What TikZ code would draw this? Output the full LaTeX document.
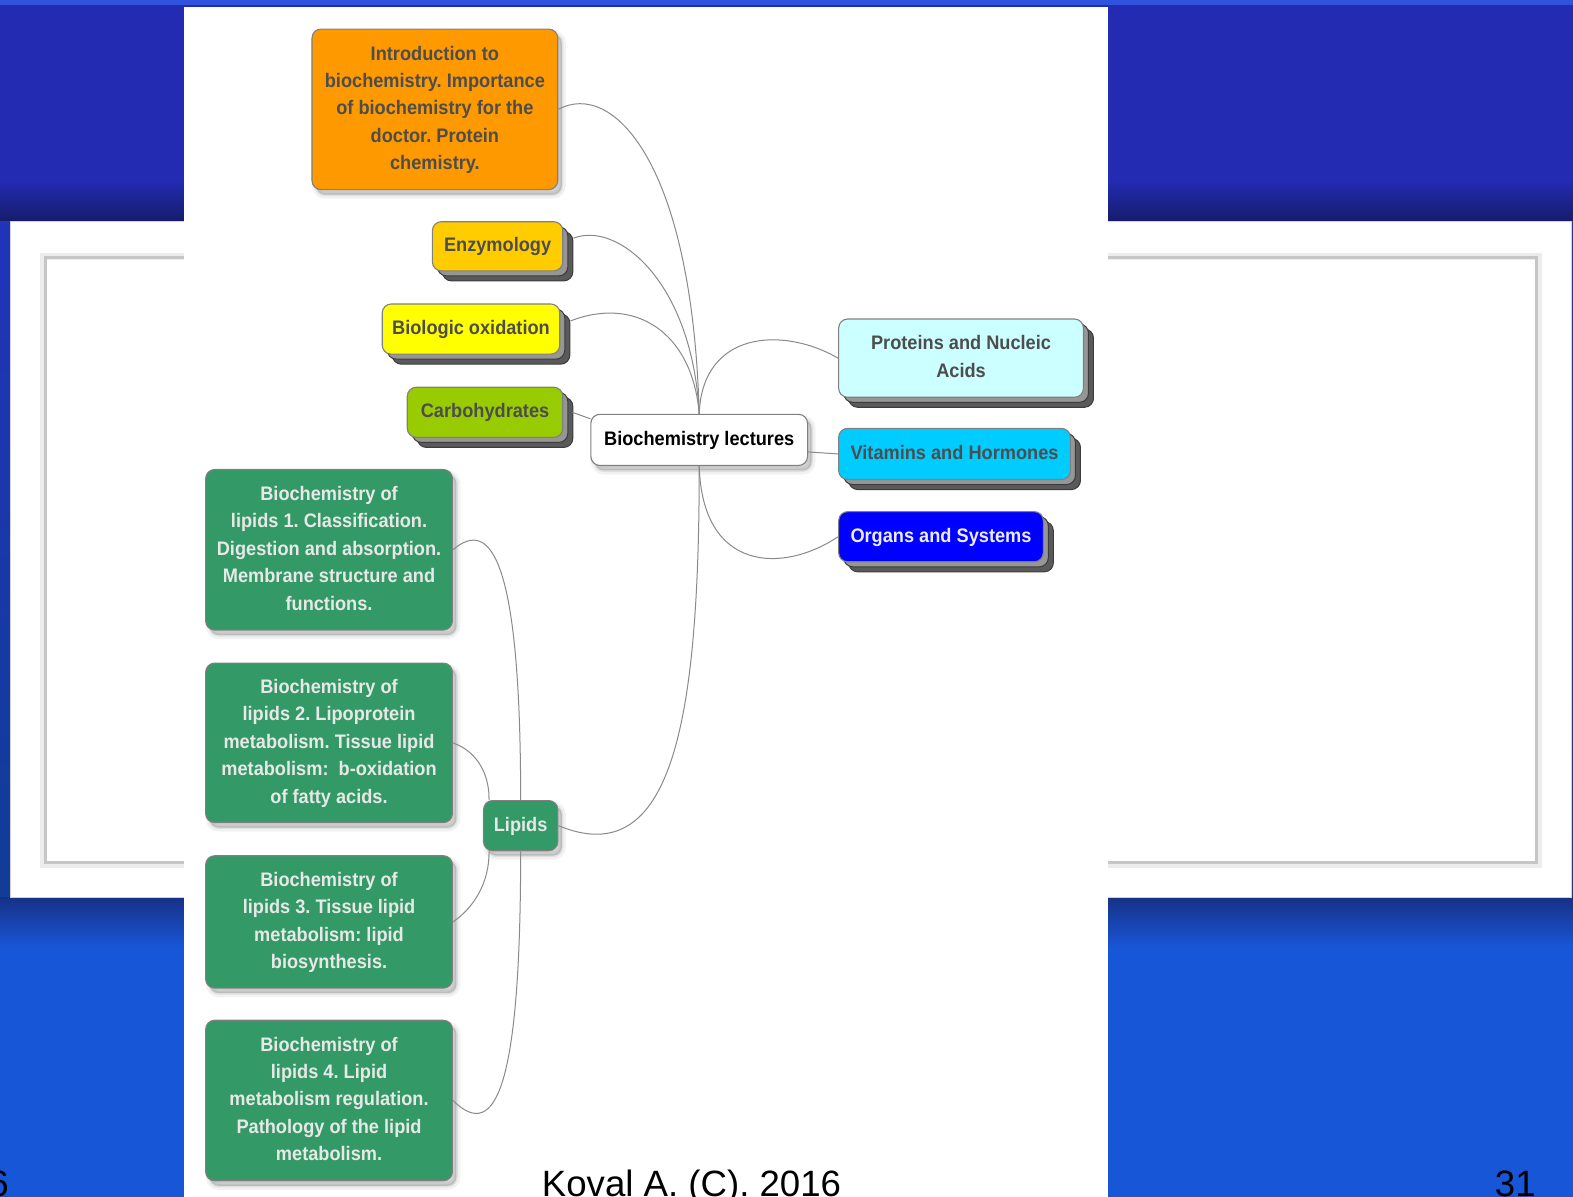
\documentclass[tikz,border=0pt]{standalone}
\usepackage{fontspec}
\usepackage{graphicx}
\setmainfont{Liberation Sans}
\usetikzlibrary{shadows}

\definecolor{slidetop}{RGB}{35,43,178}
\definecolor{slidetopdark}{RGB}{22,28,105}
\definecolor{slidebot}{RGB}{24,86,216}
\definecolor{slidebotdark}{RGB}{22,50,135}
\definecolor{slidestrip}{RGB}{48,82,220}
\definecolor{boxline}{RGB}{128,128,128}
\definecolor{linkgray}{RGB}{138,138,138}
\definecolor{darktext}{RGB}{77,77,77}
\definecolor{lighttext}{RGB}{232,232,232}
\definecolor{cIntro}{HTML}{FF9900}
\definecolor{cEnz}{HTML}{FFCC00}
\definecolor{cOx}{HTML}{FFFF00}
\definecolor{cCarb}{HTML}{99CC00}
\definecolor{cProt}{HTML}{CCFFFF}
\definecolor{cVit}{HTML}{00CCFF}
\definecolor{cOrg}{HTML}{0000FF}
\definecolor{cLip}{HTML}{339966}
\definecolor{stacklight}{RGB}{150,150,150}
\definecolor{stackdark}{RGB}{90,90,90}
\definecolor{stackline}{RGB}{60,60,60}

% centred lines of a topic, slightly narrowed
\newcommand\topictext[1]{\scalebox{0.93}[1]{\begin{tabular}{@{}c@{}}#1\end{tabular}}}

\tikzset{
  box/.style={rounded corners=9pt, draw=boxline, line width=1.1pt, align=center,
    inner sep=0pt, font=\bfseries\fontsize{19.5}{27.3}\selectfont, text=darktext},
  soft/.style={
    general shadow={shadow xshift=4pt, shadow yshift=-5pt, fill=black, fill opacity=0.16,
      draw=black, draw opacity=0.05, line width=8pt},
    general shadow={shadow xshift=4pt, shadow yshift=-5pt, draw=black, draw opacity=0.07,
      line width=3pt}},
  stack/.style={
    copy shadow={shadow xshift=10pt, shadow yshift=-10pt, fill=stackdark, draw=stackline, line width=1pt},
    copy shadow={shadow xshift=5pt, shadow yshift=-5pt, fill=stacklight, draw=stackline, line width=1pt}},
  lipbox/.style={box, soft, fill=cLip, text=lighttext, minimum width=246pt},
  link/.style={draw=linkgray, line width=1pt},
  footer/.style={inner sep=0pt, font=\fontsize{36.5}{40}\selectfont, text=black}
}

\begin{document}
\frenchspacing
\begin{tikzpicture}[x=1pt, y=-1pt]
\useasboundingbox (0,0) rectangle (1568,1193);

% slide background
\fill[slidetop] (0,0) rectangle (1568,221);
\fill[slidestrip] (0,0) rectangle (1568,5);
\shade[top color=slidetop, bottom color=slidetopdark] (0,180) rectangle (1568,221);
\shade[top color=slidetop!80!slidebot, bottom color=slidebot!70!black] (0,221) rectangle (1568,895);
\shade[top color=slidebotdark, bottom color=slidebot] (0,895) rectangle (1568,945);
\fill[slidebot] (0,945) rectangle (1568,1193);
% white picture frame
\fill[white] (10,221) rectangle (1566,895);
\draw[gray!35, line width=1pt] (10,221) rectangle (1566,895);
\draw[gray!15, line width=10pt] (45,257) rectangle (1532,860);
\draw[gray!45, line width=3pt] (45,257) rectangle (1532,860);
\fill[white] (47,259) rectangle (1530,858);
% sheet carrying the map
\fill[white] (183,7) rectangle (1104,1193);

% central topic
\node[box, soft, fill=white, text=black, minimum width=216pt, minimum height=51pt]
  (hub) at (697,438.5) {\topictext{Biochemistry lectures}};

% left branches
\node[box, soft, fill=cIntro, minimum width=245pt, minimum height=160pt]
  (intro) at (433.5,109) {\topictext{Introduction to\\biochemistry. Importance\\of biochemistry for the\\doctor. Protein\\chemistry.}};
\node[box, stack, fill=cEnz, minimum width=130pt, minimum height=49pt]
  (enz) at (496,245.5) {\topictext{Enzymology}};
\node[box, stack, fill=cOx, minimum width=177pt, minimum height=50pt]
  (ox) at (469.5,328) {\topictext{Biologic oxidation}};
\node[box, stack, fill=cCarb, minimum width=155pt, minimum height=50pt]
  (carb) at (483.5,411) {\topictext{Carbohydrates}};

% right branches
\node[box, stack, fill=cProt, minimum width=244pt, minimum height=78pt]
  (prot) at (958,357) {\topictext{Proteins and Nucleic\\Acids}};
\node[box, stack, fill=cVit, minimum width=231pt, minimum height=51pt]
  (vit) at (951.5,452.5) {\topictext{Vitamins and Hormones}};
\node[box, stack, fill=cOrg, text=white!92!blue, minimum width=204pt, minimum height=50pt]
  (org) at (938,535) {\topictext{Organs and Systems}};

% lipid branch
\node[box, soft, fill=cLip, text=lighttext, minimum width=74pt, minimum height=50pt]
  (lip) at (519,823) {\topictext{Lipids}};
\node[lipbox, minimum height=160pt] (l1) at (328,548)
  {\topictext{Biochemistry of\\lipids 1. Classification.\\Digestion and absorption.\\Membrane structure and\\functions.}};
\node[lipbox, minimum height=159pt] (l2) at (328,740.5)
  {\topictext{Biochemistry of\\lipids 2. Lipoprotein\\metabolism. Tissue lipid\\metabolism:\ \ b-oxidation\\of fatty acids.}};
\node[lipbox, minimum height=132pt] (l3) at (328,919)
  {\topictext{Biochemistry of\\lipids 3. Tissue lipid\\metabolism: lipid\\biosynthesis.}};
\node[lipbox, minimum height=160pt] (l4) at (328,1097)
  {\topictext{Biochemistry of\\lipids 4. Lipid\\metabolism regulation.\\Pathology of the lipid\\metabolism.}};

% connectors (start beyond the stacked shadows)
\draw[link] (intro.east) .. controls (610,80) and (690,160) .. (hub.north);
\draw[link] ([xshift=10pt,yshift=8pt]enz.east) .. controls (615,220) and (690,280) .. (hub.north);
\draw[link] ([xshift=10pt,yshift=8pt]ox.east) .. controls (632,295) and (690,330) .. (hub.north);
\draw[link] ([xshift=9pt]carb.east) -- ([yshift=-5pt]hub.north west);
\draw[link] (hub.north) .. controls (700,330) and (780,325) .. (prot.west);
\draw[link] ([yshift=-12pt]hub.east) -- (vit.west);
\draw[link] (hub.south) .. controls (700,570) and (780,572) .. (org.west);
\draw[link] (hub.south) .. controls (697,720) and (670,870) .. (lip.east);
\draw[link] (l1.east) .. controls (490,515) and (519,560) .. (lip.north);
\draw[link] (l2.east) .. controls (478,750) and (488,775) .. ([xshift=6pt]lip.north west);
\draw[link] ([xshift=6pt]lip.south west) .. controls (488,880) and (472,905) .. (l3.east);
\draw[link] (lip.south) .. controls (519,1080) and (495,1140) .. (l4.east);

% slide footer
\node[footer, anchor=base east] (pgprev) at (9,1193) {6};
\node[footer, anchor=base west] (author) at (540,1193) {Koval A. (C). 2016};
\node[footer, anchor=base west] (pgno) at (1490,1193) {31};
\end{tikzpicture}
\end{document}
